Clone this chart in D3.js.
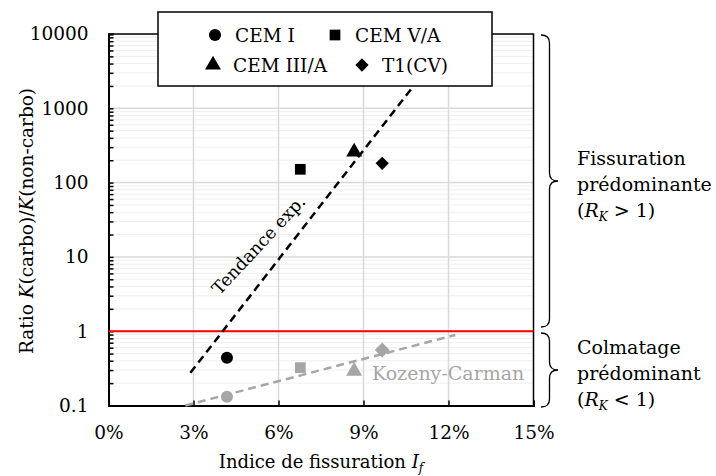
<!DOCTYPE html>
<html><head><meta charset="utf-8">
<script src="https://cdn.jsdelivr.net/npm/d3@7"></script>
<style>
body{margin:0;background:#fff;}
svg{display:block;font-family:"DejaVu Serif",serif;}
</style></head>
<body><svg id="c" width="716" height="476"></svg>
<script>
// ---- data ----
const seriesNames = ["CEM I", "CEM V/A", "CEM III/A", "T1(CV)"];
const seriesShapes = ["circle", "square", "triangle", "diamond"];
const fissIndex = [0.0418, 0.0677, 0.0867, 0.0966];
const ratioMeasured = [0.44, 151, 258, 182];
const ratioKozeny = [0.131, 0.323, 0.291, 0.558];
const trendX = [0.0289, 0.1071];
const trendY = [0.276, 1875];
const kozenyX = [0.0271, 0.1224];
const kozenyY = [0.1, 0.89];
const xTicks = [0, 0.03, 0.06, 0.09, 0.12, 0.15];
const yTicks = [0.1, 1, 10, 100, 1000, 10000];
const yTickLabels = ["0.1", "1", "10", "100", "1000", "10000"];
const thresholdRatio = 1;

const svg = d3.select("#c");
const L = 108.5, R = 533.5, T = 34, B = 405.5;
const x = d3.scaleLinear().domain([0, 0.15]).range([L, R]);
const y = d3.scaleLog().domain([0.1, 10000]).range([B, T]);

const minor = [];
for (let d = -1; d < 4; d++) for (let k = 2; k <= 9; k++) minor.push(k * Math.pow(10, d));

// grid
const g = svg.append("g");
g.selectAll(".mn").data(minor).join("line")
  .attr("x1", L).attr("x2", R).attr("y1", d => y(d)).attr("y2", d => y(d))
  .attr("stroke", "#efefef").attr("stroke-width", 1);
g.selectAll(".mj").data(yTicks.slice(1, -1)).join("line")
  .attr("x1", L).attr("x2", R).attr("y1", d => y(d)).attr("y2", d => y(d))
  .attr("stroke", "#d9d9d9").attr("stroke-width", 1.5);
g.selectAll(".vx").data(xTicks.slice(1, -1)).join("line")
  .attr("x1", d => x(d)).attr("x2", d => x(d)).attr("y1", T).attr("y2", B)
  .attr("stroke", "#d9d9d9").attr("stroke-width", 1.5);

svg.append("path").attr("d", `M${L},${T}H${R}V${B}`).attr("fill", "none").attr("stroke", "#000").attr("stroke-width", 1.5);

// axes
const yAxis = d3.axisLeft(y).tickValues(yTicks.concat(minor)).tickSize(-5).tickPadding(20)
  .tickFormat(d => { const i = yTicks.indexOf(d); return i >= 0 ? yTickLabels[i] : ""; });
const ya = svg.append("g").attr("transform", `translate(${L},0)`).call(yAxis);
ya.select(".domain").attr("stroke-width", 2);
ya.selectAll(".tick line").attr("stroke-width", 1.5);
ya.selectAll("text").attr("font-size", 18.5).attr("fill", "#000").attr("font-family", "DejaVu Serif");

const xAxis = d3.axisBottom(x).tickValues(xTicks).tickSize(-5).tickPadding(20)
  .tickFormat(d => Math.round(d * 100) + "%");
const xa = svg.append("g").attr("transform", `translate(0,${B})`).call(xAxis);
xa.select(".domain").attr("stroke-width", 2);
xa.selectAll(".tick line").attr("stroke-width", 1.5);
xa.selectAll("text").attr("font-size", 18.5).attr("fill", "#000").attr("font-family", "DejaVu Serif");

svg.append("line").attr("x1", L).attr("x2", R).attr("y1", y(thresholdRatio)).attr("y2", y(thresholdRatio))
  .attr("stroke", "#ff0000").attr("stroke-width", 2);

const lineGen = d3.line().x(d => x(d[0])).y(d => y(d[1]));
svg.append("path").attr("d", lineGen(trendX.map((v, i) => [v, trendY[i]])))
  .attr("fill", "none").attr("stroke", "#000").attr("stroke-width", 2.5).attr("stroke-dasharray", "8,5");
svg.append("path").attr("d", lineGen(kozenyX.map((v, i) => [v, kozenyY[i]])))
  .attr("fill", "none").attr("stroke", "#a6a6a6").attr("stroke-width", 2.5).attr("stroke-dasharray", "8,5");

// symbols
const diamond = { draw(ctx, size) { const r = Math.sqrt(size / 2); ctx.moveTo(0, -r); ctx.lineTo(r, 0); ctx.lineTo(0, r); ctx.lineTo(-r, 0); ctx.closePath(); } };
const symType = { circle: d3.symbolCircle, square: d3.symbolSquare, triangle: d3.symbolTriangle, diamond: diamond };
const symSize = { circle: 115, square: 115, triangle: 110, diamond: 88 };
function sym(shape, k) { return d3.symbol().type(symType[shape]).size(symSize[shape] * (k || 1))(); }

svg.selectAll(".kz").data(seriesNames).join("path")
  .attr("d", (d, i) => sym(seriesShapes[i], seriesShapes[i] === "diamond" ? 1.25 : 1))
  .attr("transform", (d, i) => `translate(${x(fissIndex[i])},${y(ratioKozeny[i])})`)
  .attr("fill", "#a6a6a6");
svg.selectAll(".ms").data(seriesNames).join("path")
  .attr("d", (d, i) => sym(seriesShapes[i]))
  .attr("transform", (d, i) => `translate(${x(fissIndex[i])},${y(ratioMeasured[i])})`)
  .attr("fill", "#000");

svg.append("text").attr("transform", "translate(263,249) rotate(-47)")
  .attr("text-anchor", "middle").attr("font-size", 17.5).text("Tendance exp.");
svg.append("text").attr("x", 372).attr("y", 380).attr("font-size", 19).attr("fill", "#a6a6a6").text("Kozeny-Carman");

// legend
const lg = svg.append("g");
lg.append("rect").attr("x", 158).attr("y", 12).attr("width", 334).attr("height", 74)
  .attr("fill", "#fff").attr("stroke", "#000").attr("stroke-width", 1.5);
const legPos = [[215, 35], [335, 35], [213, 65], [362, 65]];
seriesNames.forEach((n, i) => {
  lg.append("path").attr("d", sym(seriesShapes[i])).attr("fill", "#000")
    .attr("transform", `translate(${legPos[i][0]},${legPos[i][1]})`);
  lg.append("text").attr("x", legPos[i][0] + 20).attr("y", legPos[i][1] + 7)
    .attr("font-size", 18.5).text(n);
});

// axis titles
const yt = svg.append("text").attr("transform", "translate(33,221) rotate(-90)").attr("text-anchor", "middle").attr("font-size", 18.5);
yt.append("tspan").text("Ratio ");
yt.append("tspan").attr("font-style", "italic").text("K");
yt.append("tspan").text("(carbo)/");
yt.append("tspan").attr("font-style", "italic").text("K");
yt.append("tspan").text("(non-carbo)");

const xt = svg.append("text").attr("x", 321).attr("y", 468).attr("text-anchor", "middle").attr("font-size", 18);
xt.append("tspan").text("Indice de fissuration ");
xt.append("tspan").attr("font-style", "italic").text("I");
xt.append("tspan").attr("font-style", "italic").attr("font-size", 12).attr("dy", 4).text("f");

// braces
function brace(x0, w, y1, y2, ym) {
  const r = 8, xm = x0 + w / 2;
  return `M${x0},${y1}Q${xm},${y1} ${xm},${y1 + r}L${xm},${ym - r}Q${xm},${ym} ${x0 + w},${ym}` +
    `Q${xm},${ym} ${xm},${ym + r}L${xm},${y2 - r}Q${xm},${y2} ${x0},${y2}`;
}
svg.append("path").attr("d", brace(541, 17, 35, 327, 181)).attr("fill", "none").attr("stroke", "#000").attr("stroke-width", 1.3);
svg.append("path").attr("d", brace(541, 17, 333, 407, 370)).attr("fill", "none").attr("stroke", "#000").attr("stroke-width", 1.3);

function sideText(lines, sign, y0) {
  lines.forEach((ln, i) => {
    const t = svg.append("text").attr("x", 577).attr("y", y0 + i * 26).attr("font-size", 19);
    if (ln === "R") {
      t.append("tspan").text("(");
      t.append("tspan").attr("font-style", "italic").text("R");
      t.append("tspan").attr("font-style", "italic").attr("font-size", 12).attr("dy", 4).text("K");
      t.append("tspan").attr("dy", -4).text(sign);
    } else t.text(ln);
  });
}
sideText(["Fissuration", "prédominante", "R"], " > 1)", 165);
sideText(["Colmatage", "prédominant", "R"], " < 1)", 354);
</script></body></html>
